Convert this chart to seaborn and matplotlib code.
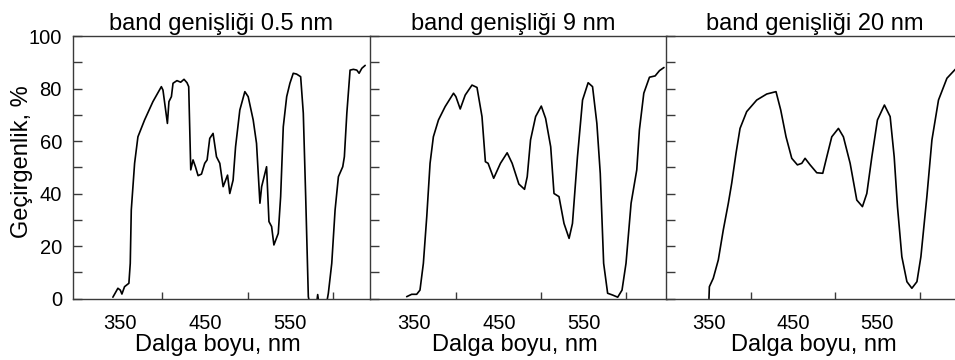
import numpy as np
import pandas as pd
import matplotlib
matplotlib.use("Agg")
import matplotlib.pyplot as plt
import seaborn as sns

sns.set_theme(style="white")
plt.rcParams["font.family"] = ["Liberation Sans", "DejaVu Sans"]

# ---------------- data ----------------
titles = ["band genişliği 0.5 nm", "band genişliği 9 nm", "band genişliği 20 nm"]
xlabel = "Dalga boyu, nm"
ylabel = "Geçirgenlik, %"
x_tick_labels = [350, 450, 550]
x_minor_ticks = [400, 450, 500, 550, 600]
y_tick_labels = [0, 20, 40, 60, 80, 100]
y_minor_ticks = [10, 30, 50, 70, 90]

wl_05 = [341.8, 347.7, 350.5, 352.4, 355.5, 360.6, 362.2, 363.4, 367.3, 371.2,
         379.0, 388.8, 398.7, 400.6, 405.8, 407.6, 410.5, 412.4, 417.0, 421.4,
         425.3, 428.8, 430.8, 433.2, 435.9, 438.7, 441.8, 445.8, 449.6, 452.4,
         455.5, 459.4, 463.4, 467.3, 471.2, 476.4, 479.0, 482.9, 485.8, 490.8,
         496.7, 500.6, 506.5, 510.4, 514.4, 516.4, 522.2, 525.0, 528.1, 530.8,
         535.9, 538.7, 541.8, 545.8, 549.6, 553.5, 557.4, 562.2, 565.3, 568.1,
         571.2, 573.5, 580.5, 582.2, 584.0, 592.0, 594.7, 598.7, 602.6, 606.5,
         611.6, 613.5, 616.4, 620.2, 624.1, 628.1, 630.8, 634.0, 637.9]
tr_05 = [0.5, 3.9, 3.2, 1.7, 4.5, 5.8, 13.4, 33.7, 51.5, 61.6,
         68.0, 75.0, 80.7, 79.4, 66.7, 75.0, 76.9, 82.0, 83.0, 82.4,
         83.5, 82.2, 80.7, 49.0, 52.8, 50.2, 46.8, 47.4, 51.5, 52.8,
         61.0, 62.9, 54.0, 51.5, 42.6, 47.0, 40.0, 45.1, 57.8, 71.8,
         78.8, 76.9, 68.0, 59.1, 36.3, 42.6, 50.2, 29.3, 27.4, 20.4,
         24.8, 38.8, 65.4, 76.9, 82.0, 85.8, 85.5, 84.5, 70.6, 38.8,
         0.7, -3.0, -3.0, 1.5, -3.0, -3.0, 2.0, 13.4, 33.7, 46.4,
         50.2, 54.0, 70.6, 87.0, 87.3, 87.0, 85.8, 87.7, 88.8]

wl_9 = [341.3, 347.2, 353.1, 357.0, 361.0, 365.0, 368.9, 372.8, 378.8, 386.7,
        396.6, 399.4, 404.5, 410.4, 418.4, 424.3, 430.2, 434.2, 437.4, 444.0,
        452.0, 459.9, 465.8, 473.7, 480.4, 483.6, 487.5, 493.5, 500.2, 505.3,
        511.3, 515.2, 521.1, 527.0, 533.0, 537.0, 542.9, 548.9, 555.5, 560.7,
        565.8, 569.8, 573.8, 578.5, 584.5, 590.4, 595.5, 600.2, 606.2, 612.9,
        616.0, 621.2, 627.9, 634.6, 639.7, 645.0]
tr_9 = [0.7, 1.6, 1.6, 3.2, 13.4, 31.2, 51.5, 61.6, 68.0, 73.1,
        78.2, 76.9, 72.2, 77.5, 81.3, 80.4, 69.3, 52.1, 51.5, 45.8,
        51.5, 55.5, 51.5, 43.6, 41.6, 46.4, 60.4, 69.3, 73.3, 68.6,
        57.8, 40.0, 38.8, 28.6, 22.9, 28.6, 54.0, 75.6, 82.2, 80.7,
        66.7, 47.7, 13.4, 2.0, 1.3, 0.5, 3.2, 13.4, 36.3, 49.0,
        64.2, 78.2, 84.3, 84.8, 86.8, 88.0]

wl_20 = [350.0, 350.5, 355.1, 361.1, 367.0, 373.0, 377.0, 382.1, 386.9, 394.8,
         406.7, 418.6, 429.6, 435.2, 441.5, 448.3, 455.0, 460.2, 464.1, 470.1,
         478.0, 485.1, 489.9, 495.8, 503.7, 509.6, 517.6, 525.5, 532.2, 537.4,
         543.4, 550.0, 558.3, 565.1, 569.9, 573.8, 579.0, 585.0, 590.9, 596.9,
         601.6, 608.7, 614.7, 622.5, 632.5, 642.4]
tr_20 = [0.0, 4.5, 7.7, 14.7, 26.1, 36.3, 43.9, 55.3, 64.8, 71.2,
         75.6, 77.9, 78.8, 71.8, 61.6, 53.4, 50.9, 51.5, 53.4, 50.9,
         47.9, 47.7, 54.0, 61.6, 64.8, 61.6, 51.5, 37.5, 35.0, 40.0,
         54.0, 68.0, 73.7, 69.3, 54.0, 35.0, 15.9, 6.4, 3.9, 6.4,
         15.9, 38.8, 60.4, 75.6, 83.9, 87.3]

series = [(wl_05, tr_05), (wl_9, tr_9), (wl_20, tr_20)]

# ---------------- layout ----------------
W, H = 955, 360
fig = plt.figure(figsize=(W / 100, H / 100), dpi=100)
lefts = [73, 370, 666]
xlims = [(295, 643), (298, 648), (299, 651)]
title_x = [0.5, 0.484, 0.5]
xlabel_x = [0.488, 0.487, 0.5]
ax_w, ax_bot, ax_top = 296.5, 298.5, 36

spine_col = "#3a3a3a"
for i, (wl, tr) in enumerate(series):
    ax = fig.add_axes([lefts[i] / W, (H - ax_bot) / H, ax_w / W, (ax_bot - ax_top) / H])
    df = pd.DataFrame({"wl": wl, "tr": tr})
    sns.lineplot(data=df, x="wl", y="tr", ax=ax, color="black", linewidth=1.2,
                 estimator=None, sort=False)
    ax.set_xlim(*xlims[i])
    ax.set_ylim(0, 100)
    ax.set_facecolor("white")
    for s in ["left", "top", "bottom", "right"]:
        ax.spines[s].set_color(spine_col)
        ax.spines[s].set_linewidth(1.0)
    ax.spines["right"].set_visible(i == 2)

    ax.set_xticks(x_tick_labels)
    ax.set_xticklabels([str(v) for v in x_tick_labels])
    ax.set_xticks(x_minor_ticks, minor=True)
    ax.set_yticks(y_tick_labels)
    ax.set_yticks(y_minor_ticks, minor=True)
    ax.tick_params(axis="x", which="major", direction="in", length=0, pad=11.5,
                   labelsize=14.5, colors="black")
    ax.tick_params(axis="x", which="minor", direction="in", length=5, width=1.0,
                   color=spine_col, bottom=True)
    ax.tick_params(axis="y", which="both", direction="in", length=6.3, width=1.0,
                   color=spine_col, left=True, right=False, pad=8, labelsize=14.5,
                   labelcolor="black")
    if i == 0:
        ax.set_yticklabels([str(v) for v in y_tick_labels])
        ax.set_ylabel(ylabel, fontsize=17, color="black")
        ax.yaxis.set_label_coords(-0.135, 0.52)
    else:
        ax.set_yticklabels([])
        ax.set_ylabel("")
    ax.set_xlabel(xlabel, fontsize=17, color="black", labelpad=1.5)
    ax.xaxis.set_label_coords(xlabel_x[i], -0.135)
    ax.xaxis.label.set_va("top")
    ax.set_title(titles[i], fontsize=17, color="black", pad=4.5, x=title_x[i])

fig.savefig("out.png", dpi=100, facecolor="white")
